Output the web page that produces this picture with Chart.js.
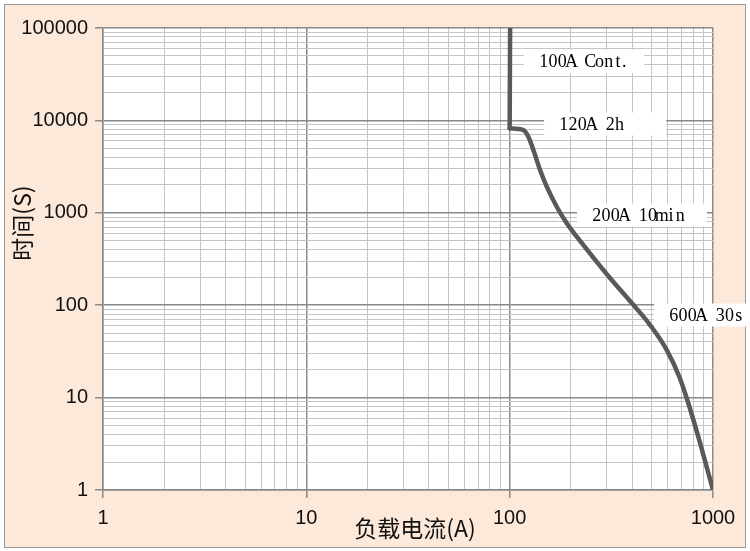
<!DOCTYPE html>
<html>
<head>
<meta charset="utf-8">
<script src="https://cdn.jsdelivr.net/npm/chart.js@4.4.1/dist/chart.umd.min.js"></script>
<style>
  html, body { margin: 0; padding: 0; background: #ffffff; }
  #wrap { width: 750px; height: 551px; }
</style>
</head>
<body>
<div id="wrap"><canvas id="c" width="750" height="551"></canvas></div>
<script>
// ---- data ----
// vertical (continuous rating) part
const contCurrentA = [100.5, 100];
const contTimeS    = [100000, 8200];
// overload part of the curve
const curveCurrentA = [100, 116.8, 123.6, 130.8, 141.1, 152.2, 170.4, 190.9, 213.8, 254.2, 311.5, 390.7, 490.5, 592.6, 686.6, 769, 861, 1000];
const curveTimeS    = [8200, 7870, 6660, 4780, 2905, 1917, 1164, 769, 551, 341, 197, 111, 61, 32.7, 16.3, 7.72, 3.31, 1];

const xMajorTicks = [1, 10, 100, 1000];
const yMajorTicks = [1, 10, 100, 1000, 10000, 100000];

const labelTexts   = ['100A Cont.', '120A 2h', '200A 10min', '600A 30s'];
const labelCurrent = [141, 177, 257, 615];
const labelTime    = [43400, 9140, 946, 78.3];

const xTitle = '负载电流(A)';
const yTitle = '时间(S)';

// ---- helpers ----
function withMinors(majors) {
  const out = [];
  for (let i = 0; i < majors.length; i++) {
    out.push(majors[i]);
    if (i < majors.length - 1) {
      for (let m = 2; m <= 9; m++) out.push(majors[i] * m);
    }
  }
  return out;
}
function isMajor(list, v) {
  return list.some(m => Math.abs(m - v) < m * 1e-6);
}

const boxWidths = [120, 122, 130, 92];

const backgroundPlugin = {
  id: 'bg',
  beforeDraw(chart) {
    const ctx = chart.ctx;
    const a = chart.chartArea;
    ctx.save();
    ctx.fillStyle = '#ffffff';
    ctx.fillRect(0, 0, chart.width, chart.height);
    ctx.fillStyle = '#FDE9D9';
    ctx.fillRect(4, 4, 742, 544);
    ctx.strokeStyle = '#9a9a9a';
    ctx.lineWidth = 1;
    ctx.strokeRect(4.5, 4.5, 741, 543);
    ctx.fillStyle = '#ffffff';
    ctx.fillRect(a.left, a.top, a.right - a.left, a.bottom - a.top);
    ctx.restore();
  },
  beforeDatasetsDraw(chart) {
    const ctx = chart.ctx;
    const xs = chart.scales.x, ys = chart.scales.y;
    ctx.save();
    const fs = 18, adv = 9.3;
    ctx.font = fs + 'px "Liberation Serif", serif';
    ctx.textAlign = 'center';
    ctx.textBaseline = 'middle';
    for (let i = 0; i < labelTexts.length; i++) {
      const tx = xs.getPixelForValue(labelCurrent[i]);
      const ty = ys.getPixelForValue(labelTime[i]);
      ctx.fillStyle = '#ffffff';
      ctx.fillRect(tx - 16, ty - 11.5, boxWidths[i], 23);
      ctx.fillStyle = '#000000';
      const t = labelTexts[i];
      for (let k = 0; k < t.length; k++) {
        const ch = t[k];
        let cx = tx + k * adv + adv / 2 - 1;
        if (ch === '.') cx -= 3;
        ctx.fillText(ch, cx, ty + 1);
      }
    }
    ctx.restore();
  },
  afterDraw(chart) {
    const ctx = chart.ctx;
    ctx.save();
    ctx.fillStyle = '#111111';
    ctx.font = '23px "Noto Sans CJK SC", sans-serif';
    ctx.textAlign = 'center';
    ctx.textBaseline = 'middle';
    ctx.fillText(xTitle, 415, 528);
    ctx.translate(22, 223);
    ctx.rotate(-Math.PI / 2);
    ctx.fillText(yTitle, 0, 0);
    ctx.restore();
  }
};

const gridColor = (majors) => (c) => (c.tick && isMajor(majors, c.tick.value)) ? '#8a8a8a' : '#c4c4c4';
const gridWidth = (majors) => (c) => (c.tick && isMajor(majors, c.tick.value)) ? 1.5 : 1;
const tickColor = (majors) => (c) => (c.tick && isMajor(majors, c.tick.value)) ? '#8a8a8a' : 'rgba(0,0,0,0)';

new Chart(document.getElementById('c'), {
  type: 'scatter',
  data: {
    datasets: [{
      data: contCurrentA.map((x, i) => ({ x: x, y: contTimeS[i] })),
      showLine: true,
      borderColor: '#595959',
      borderWidth: 4.5,
      borderCapStyle: 'round',
      pointRadius: 0,
      tension: 0,
      fill: false
    }, {
      data: curveCurrentA.map((x, i) => ({ x: x, y: curveTimeS[i] })),
      showLine: true,
      borderColor: '#595959',
      borderWidth: 4.5,
      borderCapStyle: 'round',
      pointRadius: 0,
      cubicInterpolationMode: 'monotone',
      fill: false
    }]
  },
  options: {
    responsive: false,
    animation: false,
    devicePixelRatio: 1,
    layout: { padding: { left: 0, top: 28, right: 37, bottom: 0 } },
    plugins: { legend: { display: false }, tooltip: { enabled: false } },
    scales: {
      x: {
        type: 'logarithmic',
        min: 1, max: 1000,
        afterBuildTicks(s) { s.ticks = withMinors(xMajorTicks).map(v => ({ value: v })); },
        afterFit(s) { s.height = 61; },
        ticks: {
          autoSkip: false, maxRotation: 0, padding: 8,
          color: '#111111',
          font: { family: '"Liberation Sans", Arial, sans-serif', size: 20 },
          callback(v) { return isMajor(xMajorTicks, v) ? String(v) : ''; }
        },
        grid: {
          color: gridColor(xMajorTicks), lineWidth: gridWidth(xMajorTicks),
          tickColor: tickColor(xMajorTicks), tickLength: 8, drawTicks: true
        },
        border: { display: true, color: '#8a8a8a', width: 1.5 }
      },
      y: {
        type: 'logarithmic',
        min: 1, max: 100000,
        afterBuildTicks(s) { s.ticks = withMinors(yMajorTicks).map(v => ({ value: v })); },
        afterFit(s) { s.width = 103; },
        ticks: {
          autoSkip: false, padding: 7,
          color: '#111111',
          font: { family: '"Liberation Sans", Arial, sans-serif', size: 20 },
          callback(v) { return isMajor(yMajorTicks, v) ? String(v) : ''; }
        },
        grid: {
          color: gridColor(yMajorTicks), lineWidth: gridWidth(yMajorTicks),
          tickColor: tickColor(yMajorTicks), tickLength: 8, drawTicks: true
        },
        border: { display: true, color: '#8a8a8a', width: 1.5 }
      }
    }
  },
  plugins: [backgroundPlugin]
});
</script>
</body>
</html>
